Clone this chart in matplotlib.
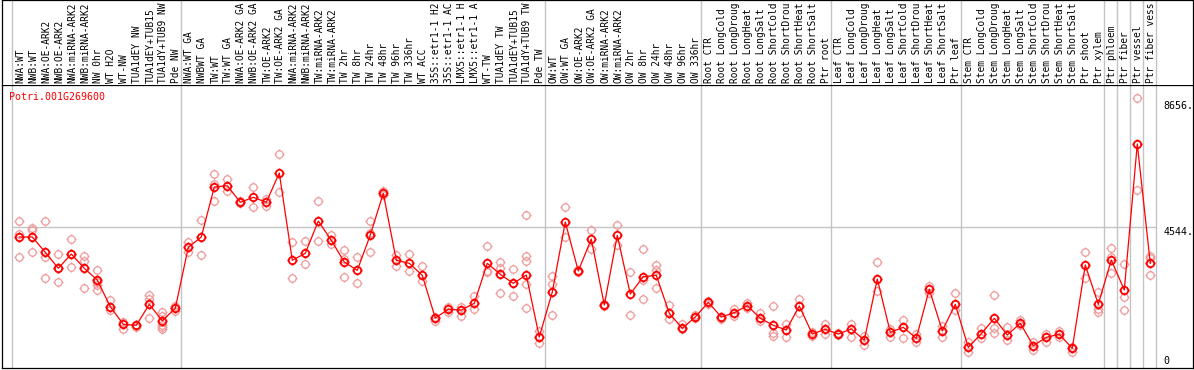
import numpy as np
import matplotlib
matplotlib.use('Agg')
import matplotlib.pyplot as plt
import matplotlib.transforms as mtrans
from matplotlib.path import Path

gene='Potri.001G269600'
labels=['NWA:WT','NWB:WT','NWA:OE-ARK2','NWB:OE-ARK2','NWA:miRNA-ARK2','NWB:miRNA-ARK2',
 'NW 0hr','WT H2O','WT-NW','TUA1dEY NW','TUA1dEY+TUB15','TUA1dY+TUB9 NW','Pde NW',
 'NWA:WT GA','NWBWT GA','TW:WT','TW:WT GA','NWA:OE-ARK2 GA','NWB:OE-ARK2 GA','TW:OE-ARK2',
 'TW:OE-ARK2 GA','NWA:miRNA-ARK2','NWB:miRNA-ARK2','TW:miRNA-ARK2','TW:miRNA-ARK2',
 'TW 2hr','TW 8hr','TW 24hr','TW 48hr','TW 96hr','TW 336hr','WT ACC','35S::etr1-1 H2',
 '35S::etr1-1 AC','LMX5::etr1-1 H','LMX5::etr1-1 A','WT-TW','TUA1dEY TW','TUA1dEY+TUB15',
 'TUA1dY+TUB9 TW','Pde TW','OW:WT','OW:WT GA','OW:OE-ARK2','OW:OE-ARK2 GA','OW:miRNA-ARK2',
 'OW:miRNA-ARK2','OW 2hr','OW 8hr','OW 24hr','OW 48hr','OW 96hr','OW 336hr',
 'Root CTR','Root LongCold','Root LongDroug','Root LongHeat','Root LongSalt','Root ShortCold',
 'Root ShortDrou','Root ShortHeat','Root ShortSalt','Ptr root',
 'Leaf CTR','Leaf LongCold','Leaf LongDroug','Leaf LongHeat','Leaf LongSalt','Leaf ShortCold',
 'Leaf ShortDrou','Leaf ShortHeat','Leaf ShortSalt','Ptr leaf',
 'Stem CTR','Stem LongCold','Stem LongDroug','Stem LongHeat','Stem LongSalt','Stem ShortCold',
 'Stem ShortDrou','Stem ShortHeat','Stem ShortSalt','Ptr shoot',
 'Ptr xylem','Ptr phloem','Ptr fiber','Ptr vessel','Ptr fiber vess']

means=[4220,4220,3719,3196,3664,3196,2813,1941,1364,1331,
 2018,1482,1886,3883,4220,5855,5898,5355,5518,5355,
 6313,3458,3686,4743,4111,3402,3130,4285,5649,3458,
 3360,2966,1570,1855,1832,2051,3360,2999,2705,2977,
 949,2421,4710,3108,4154,1995,4274,2355,2922,2966,
 1724,1233,1603,2084,1603,1744,1973,1560,1331,1178,
 1963,1047,1200,1047,1210,850,2846,1102,1266,906,
 2509,1155,2018,611,1058,1560,1014,1396,665,939,
 1036,578,3304,2018,3467,2486,7262,3360]

reps=[[4743,4328,3566],[4504,4449,3719],[4743,3566,2868],[3664,3196,2738],[4154,3664,3238],
 [3609,3435,2562],[3150,2758,2660,2496],[2149,1832],[1430,1221],[1353,1287],
 [2333,2182,1560],[1776,1636,1341,1266,1200],[1963,1809],[4068,3719],[4776,3631],
 [6270,5944,5388],[6107,5725],[5397,5330],[5845,5191],[5463,5224],
 [6925,5682],[4056,2868],[4078,3337],[5388,4078],[4285,3980],
 [3784,3500,2901],[3555,2715],[4743,4361,3739],[5735,5594],[3642,3261],
 [3664,3096],[3261,2780],[1472,1614],[1941,1776],[1941,1646],
 [2290,1855],[3925,3108,3065],[3402,3196,2388],[3163,2280],[4930,3609,3435,2682,1897],
 [1155,743],[2944,2682,1668],[5201,4220],[3130,3085],[4449,3827],
 [2030,1960],[4612,3958],[3075,1658],[3827,2813,2182],[3294,3130,2540],
 [1995,1528],[1364,1200],[1658,1570],[2138,2030],[1528,1560],
 [1874,1636],[2072,1900],[1724,1480],[1952,1069,991],[1374,939],
 [2192,1744],[981,1100],[1385,1036],[1014,1080],[1374,949],
 [991,687],[3392,2443],[959,1200],[1505,906],[1036,775],
 [2627,2377],[1308,939],[2377,1832],[469,775],[1233,927],
 [2323,1233,1069],[1287,850],[1505,1350],[797,523],[1047,797],
 [1155,959],[469,633],[3719,2868],[2431,1855,1756],[3850,3576,3052],
 [3337,2247,1832],[8757,5757],[3598,3543,2966]]

groups=[0,13,41,53,63,73,84,85,86,87,88]
yticks=[8656,4544,0]

W,H=1194,370
fig=plt.figure(figsize=(W/100,H/100),dpi=100)
ax=fig.add_axes([2/W,2/H,1191/W,283/H])
lab=fig.add_axes([2/W,285/H,1191/W,85/H],sharex=ax)

x=np.arange(len(labels))
ax.set_xlim(-1.33,-1.33+1191/13)
ax.set_ylim(-65,9192)
mono='DejaVu Sans Mono'
grey='#c4c4c4'

# circle marker with small ticks, like the original renderer
v=[(0,1),(0,1.35),(0,-1),(0,-1.35),(1,0),(1.35,0),(-1,0),(-1.35,0)]
c=[Path.MOVETO,Path.LINETO]*4
mk=Path.make_compound_path(Path.unit_circle(),Path(v,c))

for g in groups:
    ax.axvline(g-0.57,color=grey,lw=1.0,zorder=0)
    lab.axvline(g-0.57,color=grey,lw=1.0,zorder=0)
ax.hlines(4544,groups[0]-0.57,groups[-1]-0.57,color=grey,lw=1.0,zorder=0)

for i,r in enumerate(reps):
    ax.plot([i]*len(r),r,ls='none',marker=mk,ms=7.2,mfc='none',mec='#ef9a9a',mew=0.9,zorder=2)
ax.plot(x,means,color='red',lw=0.9,marker=mk,ms=7.2,mfc='none',mec='red',mew=1.3,zorder=3)

ax.text(0.0062,0.975,gene,transform=ax.transAxes,color='red',fontsize=7.2,family=mono,va='top',ha='left')
tr=mtrans.blended_transform_factory(ax.transAxes,ax.transData)
for t in yticks:
    ax.text(0.9755,t,f'{t}.' if t else '0',transform=tr,fontsize=7.2,family=mono,
            va='bottom' if t==0 else 'top',ha='left')

for i,l in enumerate(labels):
    lab.text(i+0.08,0.025,l,rotation=90,fontsize=6.85,family=mono,ha='center',va='bottom',clip_on=True)

for a in (ax,lab):
    a.set_xticks([]); a.set_yticks([])
    for s in a.spines.values(): s.set_linewidth(0.9); s.set_color('black')
lab.spines['bottom'].set_visible(False)

fig.savefig('out.png',dpi=100)
